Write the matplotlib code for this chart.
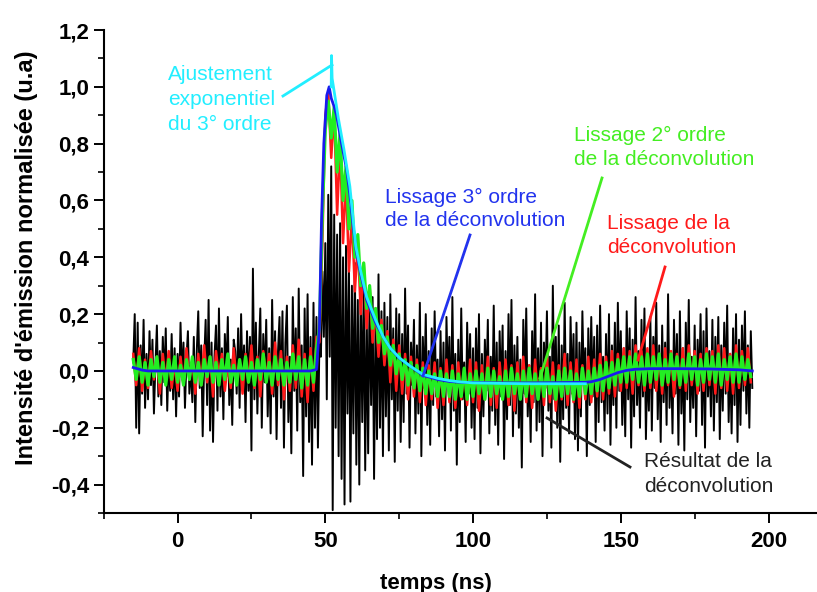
import numpy as np
import matplotlib
matplotlib.use("Agg")
import matplotlib.pyplot as plt
from matplotlib.ticker import MultipleLocator, FuncFormatter
from matplotlib.lines import Line2D

plt.rcParams['font.family'] = ['Liberation Sans', 'DejaVu Sans']

# ---------------- data ----------------
# Black: raw deconvolution result, sampled every 0.5 ns from -15 ns
black_start, black_step = -15.0, 0.5
black_vals = [
    0.03, 0.20, -0.20, 0.17, -0.22, 0.09, -0.08, 0.18, -0.13, 0.06,
    -0.10, 0.14, -0.05, 0.11, -0.15, 0.02, 0.16, -0.09, 0.07, -0.12,
    0.12, -0.04, 0.15, -0.14, 0.05, -0.07, 0.13, -0.10, 0.08, -0.16,
    0.06, -0.09, 0.17, -0.03, 0.10, -0.13, 0.04, 0.14, -0.08, 0.02,
    -0.11, 0.12, -0.18, 0.07, 0.21, -0.06, 0.09, -0.23, 0.03, 0.18,
    -0.12, 0.25, -0.21, 0.10, -0.25, 0.05, 0.16, -0.14, 0.22, -0.09,
    0.08, -0.17, 0.13, -0.02, 0.19, -0.12, 0.04, -0.19, 0.11, 0.07,
    -0.08, 0.15, -0.13, 0.20, -0.05, 0.09, -0.18, 0.14, -0.07, 0.12,
    -0.28, 0.36, -0.10, 0.17, -0.15, 0.06, 0.22, -0.20, 0.13, -0.04,
    0.18, -0.16, 0.08, -0.22, 0.25, -0.09, 0.14, -0.24, 0.07, 0.19,
    -0.13, 0.21, -0.27, 0.10, 0.23, -0.18, 0.05, -0.29, 0.26, -0.07,
    0.15, -0.21, 0.29, -0.11, 0.09, -0.37, 0.22, -0.16, 0.27, -0.25,
    0.12, -0.33, 0.24, -0.20, 0.19, -0.27, 0.10, 0.05, 0.35, 0.12,
    0.45, -0.10, 0.62, 0.05, 0.72, -0.49, 0.55, -0.20, 0.48, -0.30,
    0.52, -0.38, 0.40, -0.47, 0.44, -0.15, 0.35, -0.46, 0.30, -0.22,
    0.38, -0.33, 0.25, -0.40, 0.32, -0.18, 0.28, -0.35, 0.22, -0.29,
    0.30, -0.12, 0.26, -0.38, 0.18, -0.24, 0.34, -0.20, 0.21, -0.30,
    0.24, -0.16, 0.19, -0.28, 0.27, -0.10, 0.15, -0.32, 0.22, -0.14,
    0.20, -0.25, 0.13, -0.18, 0.29, -0.08, 0.16, -0.27, 0.10, -0.05,
    0.18, -0.22, 0.09, -0.15, 0.24, -0.30, 0.12, -0.06, 0.20, -0.19,
    0.07, -0.26, 0.15, -0.12, 0.21, -0.09, 0.04, -0.23, 0.14, -0.17,
    0.10, -0.28, 0.19, -0.05, 0.12, -0.21, 0.26, -0.14, 0.06, -0.33,
    0.11, -0.18, 0.22, -0.10, 0.03, -0.25, 0.17, -0.08, 0.13, -0.20,
    0.08, -0.24, 0.15, -0.13, 0.20, -0.29, 0.06, -0.16, 0.11, -0.07,
    0.18, -0.22, 0.05, -0.14, 0.23, -0.19, 0.10, -0.26, 0.14, -0.09,
    0.16, -0.31, 0.07, -0.17, 0.20, -0.12, 0.25, -0.23, 0.09, -0.15,
    0.12, -0.20, 0.04, -0.34, 0.18, -0.08, 0.22, -0.16, 0.02, -0.25,
    0.14, -0.11, 0.27, -0.21, 0.08, -0.18, 0.17, -0.30, 0.10, -0.06,
    0.21, -0.14, 0.05, -0.27, 0.30, -0.10, 0.12, -0.20, 0.16, -0.32,
    0.09, -0.17, 0.24, -0.13, 0.06, -0.22, 0.19, -0.08, 0.13, -0.24,
    0.17, -0.28, 0.10, -0.16, 0.21, -0.05, 0.08, -0.30, 0.15, -0.12,
    0.19, -0.09, 0.12, -0.25, 0.16, -0.18, 0.23, -0.11, 0.05, -0.21,
    0.13, -0.15, 0.20, -0.26, 0.09, -0.12, 0.17, -0.20, 0.24, -0.07,
    0.14, -0.19, 0.08, -0.23, 0.21, -0.10, 0.15, -0.27, 0.11, -0.16,
    0.26, -0.12, 0.07, -0.20, 0.18, -0.09, 0.22, -0.24, 0.04, -0.14,
    0.19, -0.21, 0.12, -0.06, 0.24, -0.17, 0.09, -0.25, 0.16, -0.11,
    0.10, -0.19, 0.27, -0.13, 0.06, -0.22, 0.18, -0.08, 0.13, -0.26,
    0.21, -0.15, 0.08, -0.28, 0.17, -0.10, 0.25, -0.18, 0.05, -0.13,
    0.16, -0.23, 0.11, -0.07, 0.20, -0.19, 0.14, -0.27, 0.22, -0.09,
    0.07, -0.16, 0.18, -0.21, 0.12, -0.11, 0.19, -0.24, 0.09, -0.14,
    0.17, -0.08, 0.23, -0.18, 0.06, -0.22, 0.15, -0.12, 0.20, -0.25,
    0.11, -0.19, 0.16, -0.07, 0.21, -0.15, 0.09, -0.20, 0.14, -0.06,
]

# Red: smoothing of the deconvolution, every 1 ns from -15 ns
red_start, red_step = -15.0, 1.0
red_vals = [
    0.06, -0.05, 0.08, -0.07, 0.04, -0.06, 0.07, -0.03, 0.05, -0.08,
    0.06, -0.04, 0.07, -0.06, 0.03, -0.07, 0.05, -0.05, 0.08, -0.03,
    0.04, -0.08, 0.06, -0.05, 0.09, -0.04, 0.05, -0.09, 0.07, -0.02,
    0.06, -0.07, 0.03, -0.06, 0.08, -0.05, 0.04, -0.08, 0.06, -0.04,
    0.09, -0.06, 0.05, -0.09, 0.07, -0.03, 0.06, -0.08, 0.10, -0.05,
    0.07, -0.10, 0.05, -0.07, 0.09, -0.06, 0.11, -0.09, 0.06, -0.11,
    0.08, -0.07, 0.12, 0.10, 0.45,
    0.90, 0.98, 0.75, 0.92, 0.55, 0.80, 0.45, 0.68, 0.35, 0.55,
    0.28, 0.45, 0.20, 0.38, 0.15, 0.30, 0.10, 0.22, 0.05, 0.18,
    0.02, 0.14, -0.04, 0.11, -0.07, 0.09, -0.08, 0.06, -0.10, 0.05,
    -0.09, 0.04, -0.11, 0.03, -0.12, 0.02, -0.10, 0.03, -0.13, 0.01,
    -0.12, 0.04, -0.11, 0.02, -0.13, 0.03, -0.10, 0.01, -0.12, 0.04,
    -0.11, 0.03, -0.14, 0.02, -0.10, 0.05, -0.12, 0.01, -0.13, 0.03,
    -0.10, 0.04, -0.12, 0.02, -0.14, 0.03, -0.09, 0.05, -0.11, 0.02,
    -0.13, 0.04, -0.10, 0.01, -0.12, 0.05, -0.11, 0.03, -0.14, 0.02,
    -0.10, 0.06, -0.12, 0.03, -0.11, 0.04, -0.13, 0.02, -0.10, 0.05,
    -0.11, 0.04, -0.09, 0.06, -0.10, 0.05, -0.08, 0.07, -0.09, 0.06,
    -0.07, 0.08, -0.06, 0.07, -0.08, 0.09, -0.05, 0.07, -0.07, 0.08,
    -0.06, 0.09, -0.07, 0.06, -0.08, 0.08, -0.05, 0.07, -0.09, 0.06,
    -0.06, 0.08, -0.07, 0.09, -0.05, 0.07, -0.08, 0.06, -0.07, 0.08,
    -0.05, 0.07, -0.08, 0.09, -0.06, 0.08, -0.07, 0.06, -0.08, 0.09,
    -0.06, 0.07, -0.05, 0.08, -0.04,
]

# Green: 2nd order smoothing, every 1 ns from -15 ns
green_start, green_step = -15.0, 1.0
green_vals = [
    0.04, -0.03, 0.05, -0.04, 0.03, -0.05, 0.04, -0.02, 0.05, -0.04,
    0.03, -0.05, 0.04, -0.03, 0.05, -0.04, 0.02, -0.05, 0.04, -0.03,
    0.05, -0.04, 0.03, -0.05, 0.04, -0.02, 0.05, -0.04, 0.03, -0.05,
    0.04, -0.03, 0.06, -0.04, 0.02, -0.05, 0.04, -0.03, 0.05, -0.04,
    0.03, -0.05, 0.04, -0.03, 0.06, -0.04, 0.03, -0.05, 0.05, -0.03,
    0.04, -0.05, 0.03, -0.04, 0.06, -0.03, 0.05, -0.06, 0.04, -0.05,
    0.05, -0.04, 0.08, 0.15, 0.55,
    0.85, 0.95, 0.82, 0.93, 0.70, 0.84, 0.60, 0.72, 0.50, 0.60,
    0.40, 0.48, 0.30, 0.38, 0.22, 0.30, 0.15, 0.22, 0.10, 0.16,
    0.06, 0.12, 0.02, 0.09, -0.01, 0.06, -0.03, 0.04, -0.05, 0.03,
    -0.06, 0.02, -0.07, 0.01, -0.08, 0.00, -0.08, -0.01, -0.09, 0.00,
    -0.09, -0.01, -0.09, 0.00, -0.10, -0.01, -0.09, 0.01, -0.10, -0.01,
    -0.09, 0.00, -0.08, -0.01, -0.10, 0.01, -0.09, 0.00, -0.08, -0.02,
    -0.10, 0.00, -0.09, 0.01, -0.08, -0.01, -0.10, 0.00, -0.09, 0.01,
    -0.08, -0.01, -0.10, 0.00, -0.09, 0.01, -0.08, -0.02, -0.10, 0.00,
    -0.09, 0.01, -0.08, 0.00, -0.10, -0.01, -0.09, 0.01, -0.08, 0.00,
    -0.08, 0.01, -0.07, 0.02, -0.07, 0.03, -0.06, 0.03, -0.05, 0.04,
    -0.04, 0.05, -0.04, 0.05, -0.03, 0.06, -0.04, 0.05, -0.05, 0.06,
    -0.04, 0.05, -0.03, 0.06, -0.05, 0.04, -0.04, 0.06, -0.03, 0.05,
    -0.05, 0.04, -0.04, 0.06, -0.03, 0.05, -0.05, 0.04, -0.04, 0.06,
    -0.03, 0.05, -0.04, 0.06, -0.05, 0.04, -0.03, 0.05, -0.04, 0.06,
    -0.04, 0.05, -0.03, 0.04, -0.02,
]

# Blue: 3rd order smoothing
blue_t = [-15, -12, -10, 0, 20, 45, 47, 48, 48.7, 49.5, 50.5, 51.3, 52, 53, 53.8,
          55.5, 57.2, 58.3, 59.4, 60.5, 62, 64, 67, 69.6, 72, 75, 79, 83, 88, 92,
          96, 100, 110, 120, 130, 138, 140, 143, 146, 149, 152, 155, 160, 170, 180,
          190, 194.5]
blue_v = [0.012, 0.003, 0.0, 0.0, 0.0, 0.0, 0.005, 0.15, 0.52, 0.80, 0.97, 1.0, 0.96,
          0.93, 0.90, 0.80, 0.71, 0.62, 0.51, 0.42, 0.34, 0.25, 0.17, 0.12, 0.08,
          0.045, 0.015, -0.015, -0.03, -0.037, -0.04, -0.041, -0.042, -0.042, -0.041,
          -0.040, -0.038, -0.03, -0.018, -0.006, 0.002, 0.006, 0.008, 0.008, 0.007,
          0.004, 0.0]

# Cyan: 3rd order exponential fit
cyan_t = [52.0, 52.1, 52.3, 54.4, 56.3, 58.3, 60.3, 62, 64, 67, 69.6, 72, 75.3, 79,
          83, 88, 92, 96, 100, 110, 120, 130, 138]
cyan_v = [1.0, 1.11, 1.03, 0.89, 0.78, 0.65, 0.44, 0.35, 0.26, 0.18, 0.12, 0.08,
          0.044, 0.015, -0.012, -0.026, -0.034, -0.039, -0.042, -0.044, -0.045,
          -0.045, -0.045]

x_ticks = [0, 50, 100, 150, 200]
y_ticks = [-0.4, -0.2, 0.0, 0.2, 0.4, 0.6, 0.8, 1.0, 1.2]

# ---------------- figure ----------------
W, H = 817, 592
fig = plt.figure(figsize=(W / 100, H / 100), dpi=100)
ax_l, ax_r, ax_t, ax_b = 103.7, 817, 30, 513
ax = fig.add_axes([ax_l / W, (H - ax_b) / H, (ax_r - ax_l) / W, (ax_b - ax_t) / H])

tb = black_start + black_step * np.arange(len(black_vals))
tr = red_start + red_step * np.arange(len(red_vals))
tg = green_start + green_step * np.arange(len(green_vals))

ax.plot(tb, black_vals, color='black', lw=1.4, zorder=2)
ax.plot(tr, red_vals, color='#ff1a1a', lw=1.8, zorder=3)
ax.plot(tg, green_vals, color='#22ee22', lw=2.3, zorder=4)
ax.plot(blue_t, blue_v, color='#1a1aee', lw=2.0, zorder=5)
ax.plot(cyan_t, cyan_v, color='#22eeff', lw=2.0, zorder=6)

ax.set_xlim(-25, 216.4)
ax.set_ylim(-0.5, 1.2)
for s in ['top', 'right']:
    ax.spines[s].set_visible(False)
for s in ['left', 'bottom']:
    ax.spines[s].set_linewidth(1.5)

ax.set_xticks(x_ticks)
ax.set_yticks(y_ticks)
ax.xaxis.set_minor_locator(MultipleLocator(25))
ax.yaxis.set_minor_locator(MultipleLocator(0.1))
ax.yaxis.set_major_formatter(FuncFormatter(lambda v, p: f"{v:.1f}".replace('.', ',')))
ax.xaxis.set_major_formatter(FuncFormatter(lambda v, p: f"{v:.0f}"))
ax.tick_params(which='major', direction='out', length=7, width=1.4, labelsize=16)
ax.tick_params(which='minor', direction='out', length=4, width=1.2)
ax.tick_params(axis='x', which='major', pad=6)
ax.tick_params(axis='y', which='major', pad=3.5)
for lab in ax.get_xticklabels() + ax.get_yticklabels():
    lab.set_fontweight('bold')

def fx(x):
    return x / W

def fy(y):
    return 1 - y / H

fig.text(fx(27), fy(258), "Intensité d'émission normalisée (u.a)", rotation=90,
         ha='center', va='center', fontsize=17, fontweight='bold')
fig.text(fx(436), fy(583), "temps (ns)", ha='center', va='center',
         fontsize=16, fontweight='bold')

# annotations
ann = [
    ('#22eeff', 168, [("Ajustement", 80), ("exponentiel", 105), ("du 3° ordre", 130)],
     (283, 96), (332, 65)),
    ('#2233ee', 385, [("Lissage 3° ordre", 203), ("de la déconvolution", 226)],
     (470, 235), (423, 376)),
    ('#44ee22', 574, [("Lissage 2° ordre", 141), ("de la déconvolution", 165)],
     (602, 178), (540, 378)),
    ('#ff1a1a', 607, [("Lissage de la", 229), ("déconvolution", 253)],
     (665, 267), (638, 360)),
    ('#222222', 644, [("Résultat de la", 467), ("déconvolution", 492)],
     (630, 467), (547, 418)),
]
for col, x0, lines, p1, p2 in ann:
    for txt, yb in lines:
        fig.text(fx(x0), fy(yb), txt, ha='left', va='baseline', fontsize=15, color=col)
    fig.add_artist(Line2D([fx(p1[0]), fx(p2[0])], [fy(p1[1]), fy(p2[1])],
                          color=col, lw=2.0, transform=fig.transFigure, zorder=10))

fig.savefig('out.png', dpi=100)
